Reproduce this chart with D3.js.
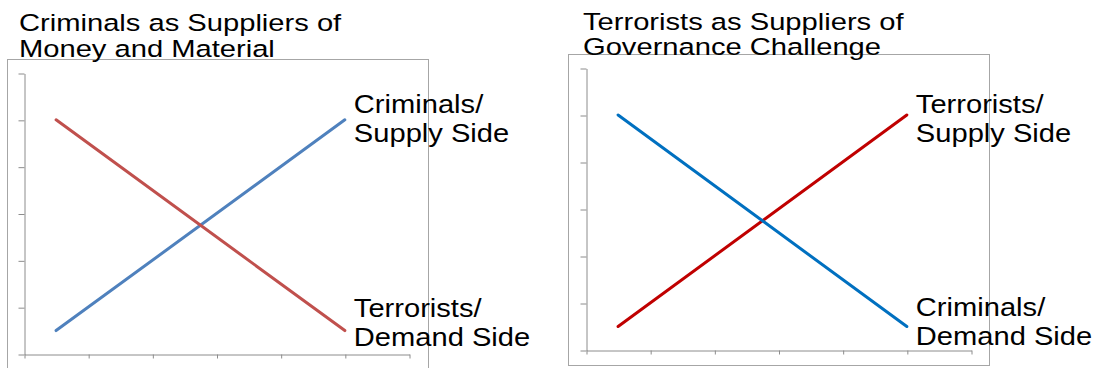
<!DOCTYPE html>
<html>
<head>
<meta charset="utf-8">
<script src="https://cdn.jsdelivr.net/npm/d3@7"></script>
<style>
  html, body { margin: 0; padding: 0; background: #fff; }
  svg { display: block; }
  text { font-family: "Liberation Sans", Arial, sans-serif; fill: #000; }
</style>
</head>
<body>
<svg id="chart" width="1097" height="368"></svg>
<script>
// ---------------- data ----------------
const xTicks = [0, 1, 2, 3, 4, 5, 6];
const yTicks = [0, 1, 2, 3, 4, 5, 6];
const xValues = [0.5, 5];

// Left chart: Criminals as Suppliers of Money and Material
const leftTitle = ["Criminals as Suppliers of", "Money and Material"];
const leftSupply = [0.5, 5];   // Criminals / Supply Side (blue)
const leftDemand = [5, 0.5];   // Terrorists / Demand Side (red)
const leftSupplyLabel = ["Criminals/", "Supply Side"];
const leftDemandLabel = ["Terrorists/", "Demand Side"];

// Right chart: Terrorists as Suppliers of Governance Challenge
const rightTitle = ["Terrorists as Suppliers of", "Governance Challenge"];
const rightSupply = [0.5, 5];  // Terrorists / Supply Side (red)
const rightDemand = [5, 0.5];  // Criminals / Demand Side (blue)
const rightSupplyLabel = ["Terrorists/", "Supply Side"];
const rightDemandLabel = ["Criminals/", "Demand Side"];

// ---------------- layout / style ----------------
const panels = [
  {
    frame: {x: 7, y: 59, w: 421, h: 313},
    plot: {x0: 24, x1: 409, yBottom: 354, yTop: 73},
    title: leftTitle, titleX: 19, titleY: 31, titleLH: 26,
    series: [
      {vals: leftSupply, color: "#4F81BD", label: leftSupplyLabel, dy: -7},
      {vals: leftDemand, color: "#C0504D", label: leftDemandLabel, dy: -14}
    ]
  },
  {
    frame: {x: 568, y: 54, w: 421, h: 311},
    plot: {x0: 586, x1: 971, yBottom: 350, yTop: 68},
    title: rightTitle, titleX: 583, titleY: 30, titleLH: 25,
    series: [
      {vals: rightSupply, color: "#C00000", label: rightSupplyLabel, dy: -2},
      {vals: rightDemand, color: "#0070C0", label: rightDemandLabel, dy: -11}
    ]
  }
];

const svg = d3.select("#chart");
const labelScale = 1.12;
const titleScale = 1.19;

panels.forEach(p => {
  const g = svg.append("g");
  // frame
  g.append("rect")
    .attr("x", p.frame.x + 0.5).attr("y", p.frame.y + 0.5)
    .attr("width", p.frame.w).attr("height", p.frame.h)
    .attr("fill", "none").attr("stroke", "#A6A6A6").attr("stroke-width", 1);

  const x = d3.scaleLinear().domain([0, 6]).range([p.plot.x0, p.plot.x1]);
  const y = d3.scaleLinear().domain([0, 6]).range([p.plot.yBottom, p.plot.yTop]);

  const yAxis = d3.axisLeft(y).tickValues(yTicks).tickSize(6).tickSizeOuter(0).tickFormat("");
  const xAxis = d3.axisBottom(x).tickValues(xTicks).tickSize(4).tickSizeOuter(0).tickFormat("");

  const ya = g.append("g").attr("transform", `translate(${p.plot.x0 + 0.5},0.5)`).call(yAxis);
  const xa = g.append("g").attr("transform", `translate(0.5,${p.plot.yBottom + 0.5})`).call(xAxis);
  [ya, xa].forEach(a => {
    a.selectAll("path.domain").attr("stroke", "#8C8C8C");
    a.selectAll(".tick line").attr("stroke", "#8C8C8C");
  });

  const line = d3.line().x((d, i) => x(xValues[i])).y(d => y(d));
  p.series.forEach(s => {
    g.append("path")
      .datum(s.vals)
      .attr("d", line)
      .attr("fill", "none")
      .attr("stroke", s.color)
      .attr("stroke-width", 3)
      .attr("stroke-linecap", "round");
  });

  // series labels at line end
  p.series.forEach(s => {
    const endV = s.vals[s.vals.length - 1];
    const lx = x(xValues[xValues.length - 1]) + 9;
    const ly = y(endV) + s.dy;
    const t = g.append("text")
      .attr("transform", `translate(${lx},${ly}) scale(${labelScale},1)`)
      .style("font-size", "26px");
    s.label.forEach((ln, i) => {
      t.append("tspan").attr("x", 0).attr("y", i * 29.5).text(ln);
    });
  });

  // title
  p.title.forEach((ln, i) => {
    g.append("text")
      .attr("transform", `translate(${p.titleX},${p.titleY + i * p.titleLH}) scale(${titleScale},1)`)
      .style("font-size", "24.5px")
      .text(ln);
  });
});
</script>
</body>
</html>
